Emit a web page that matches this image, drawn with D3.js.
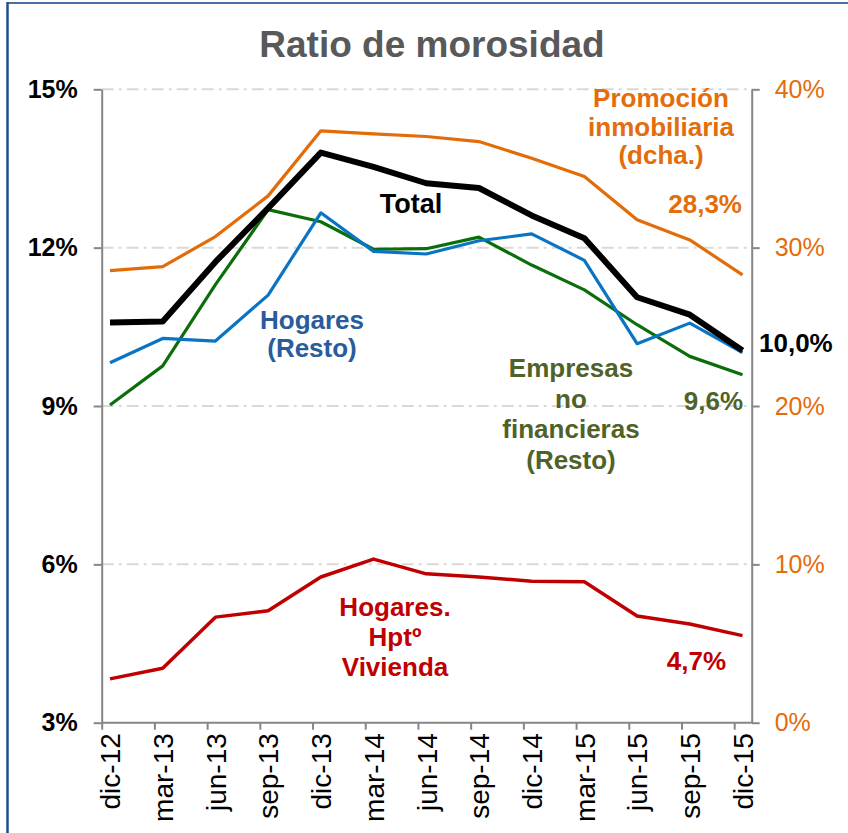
<!DOCTYPE html>
<html>
<head>
<meta charset="utf-8">
<script src="https://cdn.jsdelivr.net/npm/d3@7"></script>
<style>
  body { margin: 0; background: #fff; }
  svg { font-family: "Liberation Sans", Arial, sans-serif; }
</style>
</head>
<body>
<div class="chart"></div>
<script>
// Ratio de morosidad - datos trimestrales
var periods = ["dic-12", "mar-13", "jun-13", "sep-13", "dic-13", "mar-14", "jun-14",
               "sep-14", "dic-14", "mar-15", "jun-15", "sep-15", "dic-15"];
var total = [10.58, 10.60, 11.73, 12.75, 13.80, 13.53, 13.22, 13.13, 12.61, 12.18, 11.06, 10.73, 10.05];
var promocion = [28.55, 28.80, 30.70, 33.27, 37.38, 37.19, 37.02, 36.70, 35.65, 34.49, 31.76, 30.49, 28.28];
var empresas = [9.02, 9.76, 11.30, 12.72, 12.49, 11.97, 11.98, 12.20, 11.67, 11.20, 10.54, 9.94, 9.59];
var hogaresResto = [9.82, 10.28, 10.23, 11.10, 12.66, 11.93, 11.88, 12.13, 12.26, 11.76, 10.18, 10.57, 10.01];
var hogaresViv = [3.83, 4.03, 5.00, 5.12, 5.76, 6.10, 5.82, 5.76, 5.68, 5.67, 5.02, 4.87, 4.65];
var leftTicks = [3, 6, 9, 12, 15];
var rightTicks = [0, 10, 20, 30, 40];

var svgWidth = 848;
var svgHeight = 833;
var axisLeftX = 101.7;
var axisRightX = 751.7;
var plotTop = 89.3;
var plotBottom = 722.7;

var svg = d3.select(".chart")
  .append("svg")
  .attr("width", svgWidth)
  .attr("height", svgHeight);

// marco (solo arriba e izquierda visibles)
svg.append("line").attr("x1", 7).attr("x2", svgWidth).attr("y1", 3).attr("y2", 3)
  .attr("stroke", "#4a6fa5").attr("stroke-width", 2);
svg.append("line").attr("x1", 7.5).attr("x2", 7.5).attr("y1", 2).attr("y2", svgHeight)
  .attr("stroke", "#1f4e8c").attr("stroke-width", 2.5);

// titulo
svg.append("text")
  .attr("x", 432).attr("y", 57)
  .attr("text-anchor", "middle")
  .style("font-size", "37px").style("font-weight", "bold")
  .style("fill", "#595959")
  .text("Ratio de morosidad");

var xScale = d3.scalePoint().domain(periods).range([110, 742.5]);
var yLeft = d3.scaleLinear().domain([3, 15]).range([plotBottom, plotTop]);
var yRight = d3.scaleLinear().domain([0, 40]).range([plotBottom, plotTop]);

// lineas de cuadricula (punto y raya)
svg.append("g")
  .selectAll("line")
  .data(leftTicks.filter(function(d) { return d > 3; }))
  .enter()
  .append("line")
  .attr("x1", axisLeftX).attr("x2", axisRightX)
  .attr("y1", function(d) { return yLeft(d); })
  .attr("y2", function(d) { return yLeft(d); })
  .attr("stroke", "#d9d9d9")
  .attr("stroke-width", 2)
  .attr("stroke-dasharray", "12,5,3,5");

// eje izquierdo
var leftAxis = d3.axisLeft(yLeft).tickValues(leftTicks).tickSize(8).tickSizeOuter(0)
  .tickPadding(16).tickFormat(function(d) { return d + "%"; });
var gl = svg.append("g").attr("transform", "translate(" + axisLeftX + ",0)").call(leftAxis);
gl.select(".domain").attr("stroke", "#868686").attr("stroke-width", 2);
gl.selectAll(".tick line").attr("stroke", "#868686").attr("stroke-width", 2);
gl.selectAll(".tick text")
  .style("font-size", "25px").style("font-weight", "bold").style("fill", "#000")
  .attr("font-family", null);

// eje derecho
var rightAxis = d3.axisRight(yRight).tickValues(rightTicks).tickSize(8).tickSizeOuter(0)
  .tickPadding(15).tickFormat(function(d) { return d + "%"; });
var gr = svg.append("g").attr("transform", "translate(" + axisRightX + ",0)").call(rightAxis);
gr.select(".domain").attr("stroke", "#868686").attr("stroke-width", 2);
gr.selectAll(".tick line").attr("stroke", "#868686").attr("stroke-width", 2);
gr.selectAll(".tick text")
  .style("font-size", "25px").style("fill", "#e46c0a")
  .attr("font-family", null);

// eje inferior
var bottomAxis = d3.axisBottom(xScale).tickSize(7).tickSizeOuter(0);
var gb = svg.append("g").attr("transform", "translate(0," + plotBottom + ")").call(bottomAxis);
gb.select(".domain").remove();
gb.append("line").attr("x1", axisLeftX).attr("x2", axisRightX).attr("y1", 0).attr("y2", 0)
  .attr("stroke", "#868686").attr("stroke-width", 2);
gb.selectAll(".tick line").attr("x1", -8.3).attr("x2", -8.3)
  .attr("stroke", "#868686").attr("stroke-width", 2);
gb.selectAll(".tick text")
  .attr("transform", "rotate(-90)")
  .attr("x", -10.5).attr("y", 0).attr("dy", "0.35em")
  .attr("text-anchor", "end")
  .attr("font-family", null)
  .style("font-size", "28px").style("fill", "#000");

// series
function drawLine(values, scale, color, width) {
  var line = d3.line()
    .x(function(d, i) { return xScale(periods[i]); })
    .y(function(d) { return scale(d); });
  svg.append("path")
    .datum(values)
    .attr("d", line)
    .attr("fill", "none")
    .attr("stroke", color)
    .attr("stroke-width", width)
    .attr("stroke-linejoin", "round");
}
drawLine(promocion, yRight, "#e36c09", 3.2);
drawLine(empresas, yLeft, "#0b6e0b", 3.2);
drawLine(hogaresResto, yLeft, "#0a74c4", 3.2);
drawLine(hogaresViv, yLeft, "#c00000", 3.5);
drawLine(total, yLeft, "#000000", 6);

// etiquetas de las series
function label(lines, x, y, color, anchor, size, step) {
  var t = svg.append("text")
    .attr("x", x).attr("y", y)
    .attr("text-anchor", anchor)
    .style("font-size", size + "px").style("font-weight", "bold")
    .style("fill", color);
  lines.forEach(function(s, i) {
    t.append("tspan").attr("x", x).attr("dy", i === 0 ? 0 : step).text(s);
  });
}
label(["Promoción", "inmobiliaria", "(dcha.)"], 661, 107, "#e46c0a", "middle", 26, 28.5);
label(["28,3%"], 742, 213, "#e46c0a", "end", 26, 0);
label(["Total"], 411, 213, "#000000", "middle", 27, 0);
label(["Hogares", "(Resto)"], 312, 329, "#2a5b9c", "middle", 26, 28);
label(["10,0%"], 759, 352, "#000000", "start", 26, 0);
label(["Empresas", "no", "financieras", "(Resto)"], 571, 377, "#4f6228", "middle", 26, 30.5);
label(["9,6%"], 743, 410, "#4f6228", "end", 26, 0);
label(["Hogares.", "Hptº", "Vivienda"], 395, 616, "#c00000", "middle", 26, 30);
label(["4,7%"], 726, 670, "#c00000", "end", 26, 0);
</script>
</body>
</html>
